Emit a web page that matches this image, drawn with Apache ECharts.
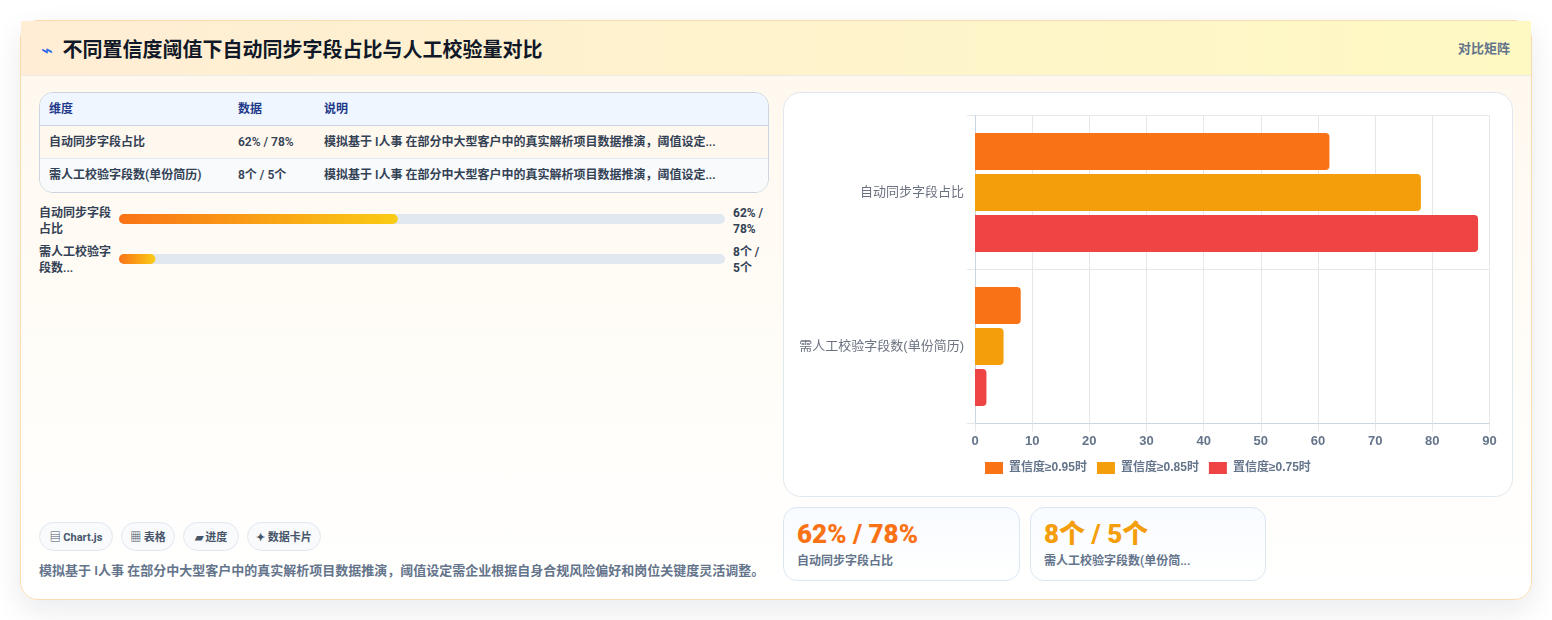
<!DOCTYPE html>
<html lang="zh-CN">
<head>
<meta charset="utf-8">
<title>不同置信度阈值下自动同步字段占比与人工校验量对比</title>
<script src="https://cdn.jsdelivr.net/npm/echarts@6/dist/echarts.min.js"></script>
<style>
  * { box-sizing: border-box; margin: 0; padding: 0; }
  html, body { width: 1552px; height: 620px; background: #fff; overflow: hidden;
    font-family: Roboto, "Noto Sans CJK SC", sans-serif; color: #334155; }
  .abs { position: absolute; }
  #card { left: 20px; top: 20px; width: 1512px; height: 580px; border: 1px solid #fbdcb0; border-radius: 18px;
    background: linear-gradient(180deg, #fff7ed 0%, #fffdf8 60%, #ffffff 100%);
    box-shadow: 0 10px 30px rgba(15, 23, 42, .09); }
  #head { left: 0; top: 0; width: 100%; height: 55px; background: linear-gradient(90deg, #ffedd5, #fef9c3);
    border-bottom: 1px solid #eceae4; }
  #title { left: 62.5px; top: 36px; font-size: 20px; font-weight: 700; color: #111827; line-height: 28px; }
  #bolt { left: 41px; top: 38px; font-size: 20px; color: #2563eb; line-height: 24px; }
  #tag { left: 1458px; top: 40px; font-size: 13px; font-weight: 600; color: #64748b; line-height: 18px; }
  #table { left: 39px; top: 92px; width: 730px; height: 101px; border: 1px solid #cbd5e1; border-radius: 14px; overflow: hidden; }
  .row { position: absolute; left: 0; width: 100%; height: 33px; font-size: 12px; font-weight: 600; line-height: 33px; color: #334155; }
  .row span { position: absolute; top: 0; white-space: nowrap; }
  .row .a { left: 9px; } .row .b { left: 198px; } .row .c { left: 284px; }
  .plabel { left: 39px; width: 76px; font-size: 12px; font-weight: 600; line-height: 16px; color: #334155; }
  .pvalue { left: 733px; width: 40px; font-size: 12px; font-weight: 700; line-height: 16px; color: #334155; }
  .chip { position: absolute; top: 522px; height: 29px; border: 1px solid #e2e8f0; border-radius: 15px; background: #f8fafc;
    font-size: 11px; font-weight: 700; line-height: 27px; text-align: center; color: #475569; white-space: nowrap; }
  .chip em { font-style: normal; font-family: "Noto Sans CJK SC", sans-serif; }
  #note { left: 39px; top: 561px; font-size: 13px; font-weight: 600; color: #64748b; line-height: 20px; white-space: nowrap; }
  #panel { left: 783px; top: 92px; width: 730px; height: 405px; border: 1px solid #e2e8f0; border-radius: 18px; background: #fff; }
  .kpi { position: absolute; top: 507px; height: 74px; border: 1px solid #dbe7f3; border-radius: 14px;
    background: linear-gradient(180deg, #f8fbff, #ffffff); }
  .kpi b { position: absolute; left: 13px; top: 9px; font-size: 26px; font-weight: 900; line-height: 34px; white-space: nowrap; }
  .kpi i { position: absolute; left: 13px; top: 44px; font-style: normal; font-size: 12px; font-weight: 600; color: #64748b; line-height: 18px; white-space: nowrap; }
</style>
</head>
<body>
<div id="card" class="abs"><div id="head" class="abs"></div></div>
<div id="bolt" class="abs">⌁</div>
<div id="title" class="abs"></div>
<div id="tag" class="abs"></div>
<div id="table" class="abs"></div>
<div id="progress" class="abs" style="left:119px;top:199px;width:606px;height:80px"></div>
<div id="progressText"></div>
<div id="chips"></div>
<div id="note" class="abs"></div>
<div id="panel" class="abs"></div>
<div id="main" class="abs" style="left:784px;top:93px;width:728px;height:403px"></div>
<div id="kpis"></div>
<script>
const titleText = '不同置信度阈值下自动同步字段占比与人工校验量对比';
const tagText = '对比矩阵';
const noteText = '模拟基于 I人事 在部分中大型客户中的真实解析项目数据推演，阈值设定需企业根据自身合规风险偏好和岗位关键度灵活调整。';
const shortNote = '模拟基于 I人事 在部分中大型客户中的真实解析项目数据推演，阈值设定...';

const categories = ['自动同步字段占比', '需人工校验字段数(单份简历)'];
const seriesNames = ['置信度≥0.95时', '置信度≥0.85时', '置信度≥0.75时'];
const high = [62, 8];
const mid = [78, 5];
const low = [88, 2];
const xTicks = { min: 0, max: 90, interval: 10 };

const tableHead = ['维度', '数据', '说明'];
const pairLabels = ['62% / 78%', '8个 / 5个'];
const progressLabels = ['自动同步字段<br>占比', '需人工校验字<br>段数...'];
const progressPairs = ['62% /<br>78%', '8个 /<br>5个'];
const progressValues = [46, 6];
const chipIcons = ['▤', '▦', '▰', '✦'];
const chipLabels = ['Chart.js', '表格', '进度', '数据卡片'];
const kpiLabels = ['自动同步字段占比', '需人工校验字段数(单份简...'];

document.getElementById('title').textContent = titleText;
document.getElementById('tag').textContent = tagText;
document.getElementById('note').textContent = noteText;

// Table rows
const rowStyles = [
  { top: 0, background: '#eff6ff', color: '#1e3a8a', borderBottom: '1px solid #cbd5e1' },
  { top: 33, background: '#fff8ef', borderBottom: '1px solid #e2e8f0' },
  { top: 66, background: '#f8fafc' }
];
const tableRows = [tableHead,
  [categories[0], pairLabels[0], shortNote],
  [categories[1], pairLabels[1], shortNote]];
const tableEl = document.getElementById('table');
tableRows.forEach((cells, i) => {
  const row = document.createElement('div');
  row.className = 'row';
  Object.assign(row.style, { top: rowStyles[i].top + 'px', background: rowStyles[i].background,
    borderBottom: rowStyles[i].borderBottom || 'none' });
  if (rowStyles[i].color) row.style.color = rowStyles[i].color;
  ['a', 'b', 'c'].forEach((cls, j) => {
    const s = document.createElement('span');
    s.className = cls;
    s.textContent = cells[j];
    row.appendChild(s);
  });
  tableEl.appendChild(row);
});

// Progress row captions
const progressTextEl = document.getElementById('progressText');
[205, 244].forEach((top, i) => {
  progressTextEl.insertAdjacentHTML('beforeend',
    `<div class="abs plabel" style="top:${top}px">${progressLabels[i]}</div>` +
    `<div class="abs pvalue" style="top:${top}px">${progressPairs[i]}</div>`);
});

// Technology chips
const chipBoxes = [[39, 74], [121, 54], [183, 56], [247, 74]];
const chipsEl = document.getElementById('chips');
chipLabels.forEach((label, i) => {
  chipsEl.insertAdjacentHTML('beforeend',
    `<div class="chip" style="left:${chipBoxes[i][0]}px;width:${chipBoxes[i][1]}px"><em>${chipIcons[i]}</em> ${label}</div>`);
});

// Summary cards
const kpiBoxes = [[783, 237, '#f97316'], [1030, 236, '#f59e0b']];
const kpisEl = document.getElementById('kpis');
kpiBoxes.forEach((box, i) => {
  kpisEl.insertAdjacentHTML('beforeend',
    `<div class="kpi" style="left:${box[0]}px;width:${box[1]}px"><b style="color:${box[2]}">${pairLabels[i]}</b><i>${kpiLabels[i]}</i></div>`);
});

// Progress bars
const progressChart = echarts.init(document.getElementById('progress'), null, { renderer: 'canvas' });
progressChart.setOption({
  animation: false,
  grid: { left: 0, right: 0, top: 0, bottom: 0 },
  xAxis: { type: 'value', min: 0, max: 100, show: false },
  yAxis: { type: 'category', inverse: true, data: categories, show: false },
  series: [{
    type: 'bar', data: progressValues, barWidth: 10,
    showBackground: true,
    backgroundStyle: { color: '#e2e8f0', borderRadius: 5 },
    itemStyle: {
      borderRadius: 5,
      color: new echarts.graphic.LinearGradient(0, 0, 1, 0, [
        { offset: 0, color: '#f97316' }, { offset: 1, color: '#facc15' }
      ])
    }
  }]
});

// Grouped horizontal bars
const mainChart = echarts.init(document.getElementById('main'), null, { renderer: 'canvas' });
const colors = ['#f97316', '#f59e0b', '#ef4444'];
const chartFont = '"Liberation Sans", "Noto Sans CJK SC", sans-serif';
const makeSeries = (name, data, color) => ({
  name, type: 'bar', data, barWidth: 37, barGap: '11%',
  itemStyle: { color, borderRadius: [0, 4, 4, 0] }
});
mainChart.setOption({
  animation: false,
  textStyle: { fontFamily: chartFont },
  grid: { left: 191, top: 22.6, width: 514.5, height: 307.8, containLabel: false },
  legend: {
    left: 196, top: 364, itemWidth: 18, itemHeight: 12, itemGap: 10, icon: 'rect',
    textStyle: { fontFamily: chartFont, fontSize: 12, fontWeight: 'bold', color: '#64748b', padding: [0, 0, 0, 1] },
    data: seriesNames
  },
  xAxis: {
    type: 'value', min: xTicks.min, max: xTicks.max, interval: xTicks.interval,
    axisLine: { show: true, lineStyle: { color: '#cbd5e1' } },
    axisTick: { show: true, length: 8, lineStyle: { color: '#e5e7eb' } },
    axisLabel: { fontFamily: chartFont, fontSize: 13, fontWeight: 'bold', color: '#64748b', margin: 12 },
    splitLine: { show: true, lineStyle: { color: '#e5e7eb' } }
  },
  yAxis: {
    type: 'category', inverse: true, data: categories,
    axisLine: { show: true, onZero: false, lineStyle: { color: '#cbd5e1' } },
    axisTick: { show: true, length: 8, lineStyle: { color: '#e5e7eb' } },
    axisLabel: { fontFamily: chartFont, fontSize: 13, color: '#6b7280', margin: 11, padding: [0, 0, 2, 0] },
    splitLine: { show: true, lineStyle: { color: '#e5e7eb' } }
  },
  series: [
    makeSeries(seriesNames[0], high, colors[0]),
    makeSeries(seriesNames[1], mid, colors[1]),
    makeSeries(seriesNames[2], low, colors[2])
  ]
});
</script>
</body>
</html>
